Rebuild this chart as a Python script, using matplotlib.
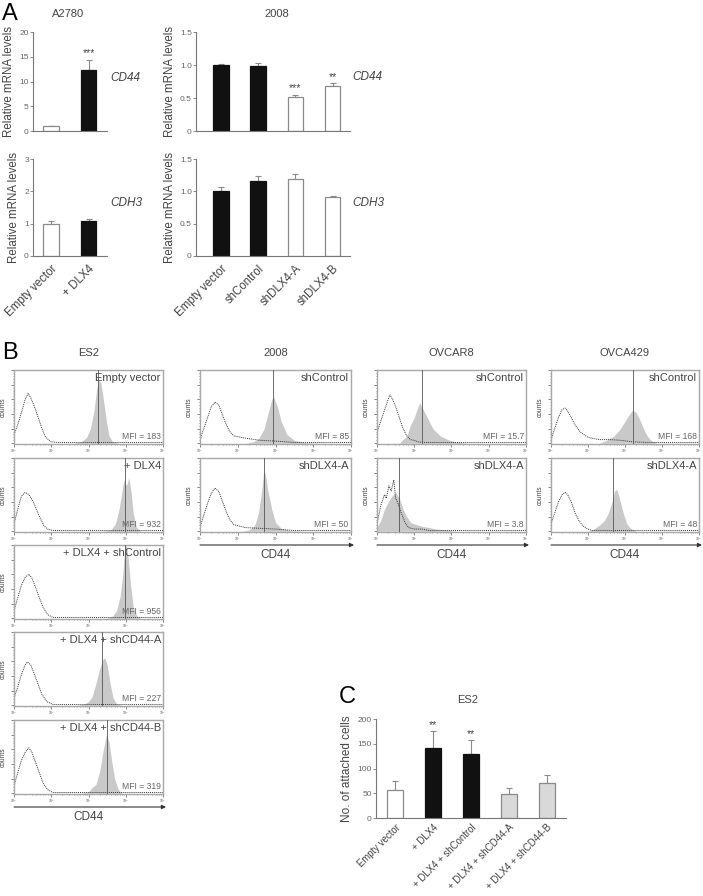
import numpy as np
import matplotlib
matplotlib.use("Agg")
import matplotlib.pyplot as plt
from matplotlib.ticker import MultipleLocator, AutoMinorLocator, NullFormatter

plt.rcParams['font.family'] = ['Liberation Sans', 'DejaVu Sans']

W, H = 703, 896
TXT = '#444444'
SPINE = '#777777'

# ---------------- panel A data ----------------
a2780_groups = ["Empty vector", "+ DLX4"]
a2780_cd44 = [1.0, 12.4]
a2780_cd44_err = [0.1, 2.0]
a2780_cd44_stars = ["", "***"]
a2780_cdh3 = [1.0, 1.08]
a2780_cdh3_err = [0.07, 0.05]
a2780_colors = ["white", "black"]

c2008_groups = ["Empty vector", "shControl", "shDLX4-A", "shDLX4-B"]
c2008_cd44 = [1.0, 0.98, 0.51, 0.68]
c2008_cd44_err = [0.02, 0.05, 0.04, 0.04]
c2008_cd44_stars = ["", "", "***", "**"]
c2008_cdh3 = [1.0, 1.16, 1.19, 0.91]
c2008_cdh3_err = [0.06, 0.07, 0.08, 0.02]
c2008_colors = ["black", "black", "white", "white"]

# ---------------- panel B data (log10 intensity, relative counts) ----------------
es2_labels = ["Empty vector", "+ DLX4", "+ DLX4 + shControl", "+ DLX4 + shCD44-A", "+ DLX4 + shCD44-B"]
es2_mfi = [183, 932, 956, 227, 319]
es2_ctrl = [
    [(0, 0.12), (0.1, 0.25), (0.2, 0.42), (0.3, 0.6), (0.38, 0.68), (0.45, 0.62), (0.55, 0.5),
     (0.65, 0.35), (0.75, 0.2), (0.85, 0.08), (1.0, 0.02), (1.2, 0.01), (4, 0.01)],
    [(0, 0.1), (0.1, 0.3), (0.2, 0.48), (0.3, 0.53), (0.4, 0.5), (0.5, 0.42), (0.6, 0.3),
     (0.7, 0.18), (0.8, 0.08), (0.9, 0.03), (1.05, 0.01), (4, 0.01)],
    [(0, 0.1), (0.1, 0.28), (0.2, 0.45), (0.3, 0.56), (0.4, 0.6), (0.48, 0.55), (0.58, 0.42),
     (0.68, 0.28), (0.78, 0.15), (0.9, 0.05), (1.05, 0.01), (4, 0.01)],
    [(0, 0.1), (0.1, 0.25), (0.2, 0.42), (0.3, 0.55), (0.36, 0.59), (0.45, 0.55), (0.55, 0.42),
     (0.65, 0.28), (0.75, 0.15), (0.88, 0.05), (1.05, 0.01), (4, 0.01)],
    [(0, 0.1), (0.1, 0.28), (0.2, 0.45), (0.3, 0.56), (0.4, 0.62), (0.48, 0.56), (0.58, 0.42),
     (0.68, 0.28), (0.78, 0.14), (0.9, 0.05), (1.05, 0.01), (4, 0.01)],
]
es2_sample = [
    [(1.6, 0), (1.8, 0.02), (1.95, 0.08), (2.05, 0.2), (2.15, 0.45), (2.22, 0.75), (2.28, 0.86),
     (2.33, 0.83), (2.4, 0.6), (2.48, 0.3), (2.55, 0.1), (2.65, 0.02), (2.8, 0)],
    [(2.4, 0), (2.6, 0.02), (2.72, 0.1), (2.82, 0.3), (2.9, 0.55), (2.95, 0.7), (3.02, 0.62),
     (3.08, 0.73), (3.14, 0.55), (3.2, 0.25), (3.28, 0.06), (3.4, 0)],
    [(2.5, 0), (2.65, 0.03), (2.75, 0.1), (2.85, 0.3), (2.92, 0.6), (2.97, 0.95), (3.02, 1.0),
     (3.07, 0.8), (3.13, 0.45), (3.2, 0.15), (3.3, 0.03), (3.4, 0)],
    [(1.7, 0), (1.9, 0.02), (2.0, 0.05), (2.1, 0.12), (2.2, 0.3), (2.3, 0.5), (2.38, 0.62),
     (2.44, 0.65), (2.5, 0.55), (2.58, 0.3), (2.66, 0.1), (2.75, 0.02), (2.9, 0)],
    [(1.8, 0), (2.0, 0.02), (2.1, 0.08), (2.2, 0.12), (2.3, 0.3), (2.4, 0.6), (2.48, 0.8),
     (2.55, 0.7), (2.62, 0.45), (2.7, 0.2), (2.8, 0.05), (2.9, 0)],
]

b2008_labels = ["shControl", "shDLX4-A"]
b2008_mfi = [85, 50]
b2008_ctrl = [
    [(0, 0.05), (0.1, 0.2), (0.2, 0.35), (0.3, 0.5), (0.4, 0.56), (0.5, 0.52), (0.6, 0.38),
     (0.7, 0.25), (0.8, 0.15), (0.9, 0.1), (1.2, 0.07), (1.6, 0.04), (2.0, 0.03), (2.5, 0.01), (4, 0.01)],
    [(0, 0.05), (0.1, 0.22), (0.2, 0.38), (0.3, 0.52), (0.4, 0.59), (0.5, 0.54), (0.6, 0.4),
     (0.7, 0.26), (0.8, 0.15), (0.9, 0.09), (1.2, 0.05), (1.6, 0.04), (2.0, 0.03), (2.5, 0.01), (4, 0.01)],
]
b2008_sample = [
    [(1.2, 0), (1.4, 0.02), (1.55, 0.06), (1.7, 0.2), (1.8, 0.4), (1.9, 0.6), (1.95, 0.63),
     (2.05, 0.5), (2.15, 0.3), (2.3, 0.12), (2.5, 0.04), (2.8, 0.01), (3.2, 0)],
    [(1.1, 0), (1.3, 0.02), (1.45, 0.08), (1.55, 0.25), (1.62, 0.5), (1.68, 0.78), (1.72, 0.81),
     (1.8, 0.55), (1.9, 0.3), (2.0, 0.12), (2.15, 0.04), (2.4, 0.01), (2.8, 0)],
]

ovcar8_labels = ["shControl", "shDLX4-A"]
ovcar8_mfi = [15.7, 3.8]
ovcar8_ctrl = [
    [(0, 0.15), (0.1, 0.3), (0.2, 0.45), (0.3, 0.6), (0.35, 0.66), (0.42, 0.6), (0.5, 0.5),
     (0.6, 0.35), (0.7, 0.2), (0.8, 0.1), (0.9, 0.05), (1.0, 0.04), (1.1, 0.02), (1.3, 0.01), (4, 0.01)],
    [(0, 0.1), (0.1, 0.35), (0.2, 0.5), (0.25, 0.45), (0.32, 0.62), (0.38, 0.55), (0.45, 0.7),
     (0.5, 0.45), (0.55, 0.4), (0.65, 0.25), (0.75, 0.12), (0.85, 0.05), (1.0, 0.03), (1.2, 0.03),
     (1.4, 0.01), (4, 0.01)],
]
ovcar8_sample = [
    [(0.6, 0), (0.7, 0.05), (0.8, 0.1), (0.9, 0.25), (1.0, 0.35), (1.1, 0.5), (1.15, 0.55),
     (1.25, 0.45), (1.35, 0.35), (1.5, 0.2), (1.7, 0.1), (1.9, 0.05), (2.1, 0.02), (2.4, 0)],
    [(0, 0.05), (0.1, 0.15), (0.2, 0.3), (0.3, 0.4), (0.4, 0.48), (0.5, 0.53), (0.6, 0.45),
     (0.7, 0.3), (0.8, 0.2), (0.9, 0.12), (1.0, 0.1), (1.2, 0.07), (1.4, 0.05), (1.6, 0.03),
     (1.8, 0.02), (2.1, 0)],
]

ovca429_labels = ["shControl", "shDLX4-A"]
ovca429_mfi = [168, 48]
ovca429_ctrl = [
    [(0, 0.05), (0.1, 0.2), (0.2, 0.35), (0.3, 0.46), (0.38, 0.48), (0.45, 0.44), (0.55, 0.35),
     (0.65, 0.25), (0.8, 0.15), (1.0, 0.08), (1.3, 0.05), (1.6, 0.05), (1.9, 0.04), (2.2, 0.02),
     (2.6, 0.01), (4, 0.01)],
    [(0, 0.1), (0.1, 0.25), (0.2, 0.4), (0.3, 0.5), (0.38, 0.53), (0.45, 0.5), (0.55, 0.4),
     (0.65, 0.25), (0.75, 0.15), (0.85, 0.08), (0.95, 0.04), (1.1, 0.01), (4, 0.01)],
]
ovca429_sample = [
    [(1.3, 0), (1.5, 0.04), (1.7, 0.1), (1.85, 0.18), (2.0, 0.3), (2.1, 0.38), (2.2, 0.45),
     (2.3, 0.42), (2.4, 0.32), (2.5, 0.2), (2.6, 0.1), (2.7, 0.04), (2.85, 0)],
    [(1.0, 0), (1.15, 0.03), (1.3, 0.08), (1.45, 0.15), (1.55, 0.25), (1.65, 0.4), (1.72, 0.55),
     (1.78, 0.57), (1.85, 0.45), (1.95, 0.25), (2.05, 0.1), (2.15, 0.04), (2.3, 0)],
]

# ---------------- panel C data ----------------
es2_attach_groups = ["Empty vector", "+ DLX4", "+ DLX4 + shControl", "+ DLX4 + shCD44-A", "+ DLX4 + shCD44-B"]
es2_attach = [57, 142, 130, 49, 70]
es2_attach_err = [17, 33, 27, 12, 16]
es2_attach_stars = ["", "**", "**", "", ""]
es2_attach_colors = ["white", "black", "black", "#d9d9d9", "#d9d9d9"]


def px_axes(fig, left, top, right, bottom):
    return fig.add_axes([left / W, 1 - bottom / H, (right - left) / W, (bottom - top) / H])


def fig_text(fig, x, y, s, **kw):
    kw.setdefault('color', TXT)
    fig.text(x / W, 1 - y / H, s, **kw)


def bar_panel(ax, values, errors, colors, ymax, yticks, yticklabels, xlim,
              stars=None, xlabels=None, ylabel="Relative mRNA levels", xlabelsize=8.3, xpad=5):
    x = np.arange(len(values))
    edges = ['#111111' if c == 'black' else '#8a8a8a' for c in colors]
    faces = ['#111111' if c == 'black' else c for c in colors]
    ax.bar(x, values, width=0.42, color=faces, edgecolor=edges, linewidth=0.9, zorder=2)
    ax.errorbar(x, values, yerr=[np.zeros(len(values)), errors], fmt='none',
                ecolor='#8a8a8a', elinewidth=0.8, capsize=2, capthick=0.8, zorder=1)
    if stars:
        for xi, v, e, s in zip(x, values, errors, stars):
            if s:
                ax.text(xi, v + e + ymax * 0.015, s, ha='center', va='bottom',
                        fontsize=7.5, color=TXT)
    ax.set_ylim(0, ymax)
    ax.set_xlim(*xlim)
    ax.set_yticks(yticks)
    ax.set_yticklabels(yticklabels)
    ax.tick_params(axis='y', labelsize=6, colors=SPINE, labelcolor='#666666', length=2, width=0.6, pad=1)
    if xlabels:
        ax.set_xticks(x)
        ax.set_xticklabels(xlabels, rotation=45, ha='right', rotation_mode='anchor')
        ax.tick_params(axis='x', length=0, labelsize=xlabelsize, labelcolor=TXT, pad=xpad)
    else:
        ax.set_xticks([])
    for side in ['top', 'right']:
        ax.spines[side].set_visible(False)
    for side in ['left', 'bottom']:
        ax.spines[side].set_color(SPINE)
        ax.spines[side].set_linewidth(0.8)
    ax.set_ylabel(ylabel, fontsize=8.3, color=TXT, labelpad=3)


def hist_panel(ax, ctrl, sample, mfi, label):
    sx, sy = zip(*sample)
    cx, cy = zip(*ctrl)
    ax.fill_between(10 ** np.array(sx), sy, color='#c9c9c9', lw=0, zorder=1)
    ax.plot(10 ** np.array(cx), cy, ls=(0, (1, 1)), color='#333333', lw=0.7, zorder=2)
    ax.axvline(mfi, color='#555555', lw=0.6, zorder=3)
    ax.set_xscale('log')
    ax.set_xlim(1, 1e4)
    ax.set_ylim(-0.01, 1.0)
    ax.yaxis.set_major_locator(MultipleLocator(0.2))
    ax.yaxis.set_minor_locator(AutoMinorLocator(5))
    ax.yaxis.set_major_formatter(NullFormatter())
    ax.tick_params(axis='y', which='major', length=2, width=0.5, colors='#555555')
    ax.tick_params(axis='y', which='minor', length=1, width=0.4, colors='#555555')
    ax.tick_params(axis='x', which='major', length=2, width=0.5, colors='#555555',
                   labelsize=2.5, pad=0.5)
    ax.tick_params(axis='x', which='minor', length=1, width=0.4, colors='#555555')
    for side in ax.spines.values():
        side.set_color('#a8a8a8')
        side.set_linewidth(1.0)
    ax.set_ylabel('counts', fontsize=4.8, color=TXT)
    # place the label about 7 px left of the box
    ax.yaxis.set_label_coords(-7 / (ax.get_position().width * W), 0.5)
    ax.text(0.985, 0.96, label, transform=ax.transAxes, ha='right', va='top',
            fontsize=8, color=TXT)
    ax.text(0.985, 0.04, 'MFI = %g' % mfi, transform=ax.transAxes, ha='right', va='bottom',
            fontsize=6.2, color='#666666')


def hist_column(fig, left, right, tops, labels, mfis, ctrls, samples, title):
    height = 74
    ax = None
    for top, lab, m, c, s in zip(tops, labels, mfis, ctrls, samples):
        ax = px_axes(fig, left, top, right, top + height)
        hist_panel(ax, c, s, m, lab)
    fig_text(fig, (left + right) / 2, 353, title, ha='center', va='center', fontsize=8)
    bottom = tops[-1] + height
    arrow_y = 1 - (bottom + 13) / H
    ax.annotate('', xy=((right + 3) / W, arrow_y), xytext=(left / W, arrow_y),
                xycoords='figure fraction', textcoords='figure fraction',
                arrowprops=dict(arrowstyle='-|>', color='#333333', lw=0.8,
                                mutation_scale=6, shrinkA=0, shrinkB=0))
    fig_text(fig, (left + right) / 2, bottom + 23, 'CD44', ha='center', va='center', fontsize=8.5)


fig = plt.figure(figsize=(W / 100, H / 100), dpi=100)

# ---------------- A ----------------
fig_text(fig, 2, 14, 'A', fontsize=17, va='center', color='black')
fig_text(fig, 68, 14, 'A2780', ha='center', va='center', fontsize=8)
fig_text(fig, 277, 14, '2008', ha='center', va='center', fontsize=8)

ax = px_axes(fig, 33, 32, 107, 131)
bar_panel(ax, a2780_cd44, a2780_cd44_err, a2780_colors, 20, [0, 5, 10, 15, 20],
          ['0', '5', '10', '15', '20'], (-0.48, 1.49), stars=a2780_cd44_stars)
ax = px_axes(fig, 33, 159, 107, 256)
bar_panel(ax, a2780_cdh3, a2780_cdh3_err, a2780_colors, 3, [0, 1, 2, 3],
          ['0', '1', '2', '3'], (-0.48, 1.49), xlabels=a2780_groups)
ax = px_axes(fig, 196, 32, 350, 131)
bar_panel(ax, c2008_cd44, c2008_cd44_err, c2008_colors, 1.5, [0, 0.5, 1.0, 1.5],
          ['0', '0.5', '1.0', '1.5'], (-0.67, 3.47), stars=c2008_cd44_stars)
ax = px_axes(fig, 196, 159, 350, 256)
bar_panel(ax, c2008_cdh3, c2008_cdh3_err, c2008_colors, 1.5, [0, 0.5, 1.0, 1.5],
          ['0', '0.5', '1.0', '1.5'], (-0.67, 3.47), xlabels=c2008_groups)

fig_text(fig, 110, 78, 'CD44', fontsize=8.5, style='italic', va='center')
fig_text(fig, 110, 203, 'CDH3', fontsize=8.5, style='italic', va='center')
fig_text(fig, 352, 77, 'CD44', fontsize=8.5, style='italic', va='center')
fig_text(fig, 352, 203, 'CDH3', fontsize=8.5, style='italic', va='center')

# ---------------- B ----------------
fig_text(fig, 2, 353, 'B', fontsize=17, va='center', color='black')
hist_column(fig, 14, 163, [370, 458, 545, 632, 720], es2_labels, es2_mfi, es2_ctrl, es2_sample, 'ES2')
hist_column(fig, 200, 351, [370, 458], b2008_labels, b2008_mfi, b2008_ctrl, b2008_sample, '2008')
hist_column(fig, 377, 526, [370, 458], ovcar8_labels, ovcar8_mfi, ovcar8_ctrl, ovcar8_sample, 'OVCAR8')
hist_column(fig, 551, 699, [370, 458], ovca429_labels, ovca429_mfi, ovca429_ctrl, ovca429_sample, 'OVCA429')

# ---------------- C ----------------
fig_text(fig, 339, 697, 'C', fontsize=17, va='center', color='black')
fig_text(fig, 468, 700, 'ES2', ha='center', va='center', fontsize=8)
ax = px_axes(fig, 376, 719, 566, 818)
bar_panel(ax, es2_attach, es2_attach_err, es2_attach_colors, 200, [0, 50, 100, 150, 200],
          ['0', '50', '100', '150', '200'], (-0.5, 4.5), stars=es2_attach_stars,
          xlabels=es2_attach_groups, ylabel='No. of attached cells', xlabelsize=6.9, xpad=3)
ax.yaxis.label.set_size(8.5)

fig.savefig('out.png', dpi=100)
